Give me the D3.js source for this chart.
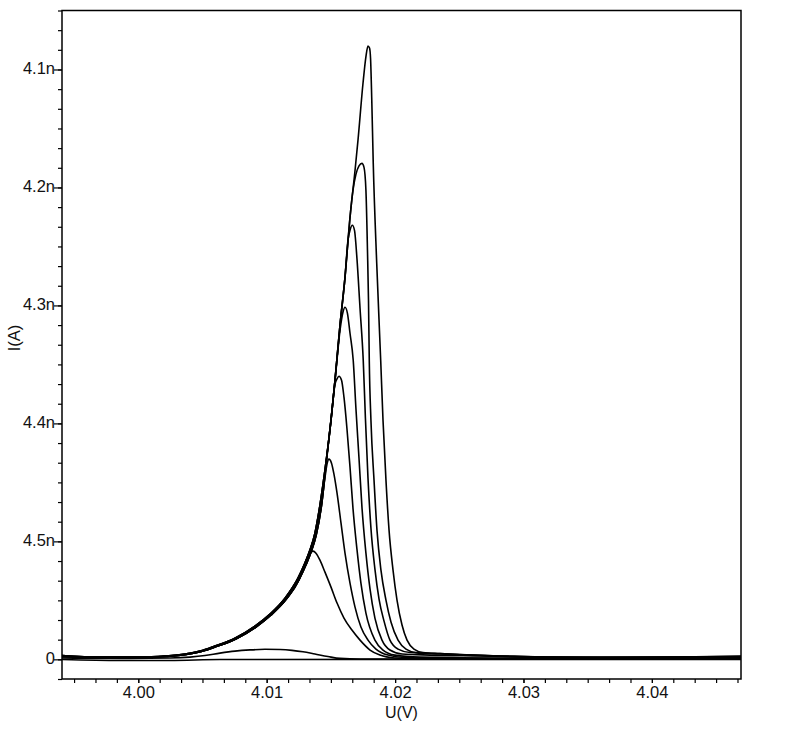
<!DOCTYPE html>
<html>
<head>
<meta charset="utf-8">
<script src="https://cdn.jsdelivr.net/npm/d3@7/dist/d3.min.js"></script>
<style>
  html, body { margin: 0; padding: 0; background: #fff; }
  svg { display: block; }
  text { font-family: "Liberation Sans", Arial, sans-serif; fill: #111; }
</style>
</head>
<body>
<svg id="chart" width="795" height="753"></svg>
<script>
// ---- axis data ----
const xTickValues = [4.00, 4.01, 4.02, 4.03, 4.04];
const xTickLabels = ["4.00", "4.01", "4.02", "4.03", "4.04"];
const yTickValues = [0, 1, 2, 3, 4, 5];
const yTickLabels = ["0", "4.5n", "4.4n", "4.3n", "4.2n", "4.1n"];
const xDomain = [3.99406, 4.04694];
const yDomain = [-1 / 6, 5.5];
const xTitle = "U(V)";
const yTitle = "I(A)";

// ---- series data: [U, I] (I in major-tick units) ----
const envelopeA = [
  [3.99406, 0.032], [3.99702, 0.019], [4.00013, 0.019], [4.00208, 0.028], [4.00364, 0.045],
  [4.00481, 0.070], [4.00597, 0.113], [4.00753, 0.180], [4.00909, 0.282], [4.01026, 0.384],
  [4.01143, 0.519], [4.01244, 0.689], [4.01298, 0.816], [4.01337, 0.926], [4.01376, 1.070],
  [4.01415, 1.307], [4.01462, 1.671], [4.01501, 2.027], [4.01532, 2.366], [4.01571, 2.832],
  [4.01610, 3.238], [4.01649, 3.746], [4.01688, 4.144], [4.01711, 4.399], [4.01750, 4.881]
];
const envelopeB = [
  [3.99406, 0.024], [3.99702, 0.015], [4.00013, 0.015], [4.00218, 0.024], [4.00374, 0.041],
  [4.00491, 0.066], [4.00607, 0.108], [4.00763, 0.175], [4.00919, 0.276], [4.01036, 0.378],
  [4.01153, 0.511], [4.01254, 0.680], [4.01308, 0.806], [4.01347, 0.914], [4.01386, 1.055],
  [4.01425, 1.288]
];
const sweep1 = [
  [4.01773, 5.110], [4.01789, 5.199], [4.01801, 5.182], [4.01809, 5.093], [4.01818, 4.763],
  [4.01830, 4.204], [4.01857, 3.357], [4.01888, 2.535], [4.01906, 2.027], [4.01929, 1.519],
  [4.01953, 1.095], [4.01984, 0.756], [4.02015, 0.502], [4.02054, 0.291], [4.02093, 0.163],
  [4.02147, 0.087], [4.02217, 0.058], [4.02350, 0.049], [4.02505, 0.041], [4.02817, 0.028],
  [4.03206, 0.019], [4.03596, 0.015], [4.04219, 0.019], [4.04694, 0.028]
];
const sweep2 = [
  [4.01672, 3.975], [4.01695, 4.111], [4.01719, 4.183], [4.01742, 4.204], [4.01758, 4.170],
  [4.01773, 3.975], [4.01785, 3.467], [4.01793, 3.043], [4.01799, 2.535], [4.01812, 2.027],
  [4.01836, 1.519], [4.01859, 1.095], [4.01890, 0.756], [4.01929, 0.502], [4.01968, 0.316],
  [4.02023, 0.163], [4.02085, 0.087], [4.02163, 0.058], [4.02350, 0.049], [4.02583, 0.036],
  [4.02973, 0.024], [4.03596, 0.015], [4.04694, 0.024]
];
const sweep3 = [
  [4.01633, 3.552], [4.01651, 3.645], [4.01667, 3.679], [4.01684, 3.636], [4.01703, 3.399],
  [4.01727, 2.976], [4.01752, 2.535], [4.01769, 2.044], [4.01789, 1.536], [4.01812, 1.112],
  [4.01843, 0.765], [4.01875, 0.511], [4.01914, 0.324], [4.01960, 0.163], [4.02023, 0.087],
  [4.02116, 0.058], [4.02350, 0.045], [4.02661, 0.032], [4.03284, 0.019], [4.04694, 0.019]
];
const sweep4 = [
  [4.01470, 1.730], [4.01509, 2.112], [4.01540, 2.450], [4.01571, 2.789], [4.01594, 2.942],
  [4.01610, 2.984], [4.01629, 2.933], [4.01649, 2.764], [4.01674, 2.535], [4.01695, 2.129],
  [4.01719, 1.705], [4.01742, 1.290], [4.01773, 0.900], [4.01805, 0.595], [4.01843, 0.350],
  [4.01898, 0.163], [4.01960, 0.079], [4.02054, 0.045], [4.02272, 0.036], [4.02661, 0.028],
  [4.03284, 0.015], [4.04694, 0.015]
];
const sweep5 = [
  [4.01470, 1.722], [4.01505, 2.069], [4.01532, 2.332], [4.01548, 2.378], [4.01563, 2.400],
  [4.01583, 2.366], [4.01602, 2.222], [4.01625, 1.959], [4.01649, 1.629], [4.01672, 1.282],
  [4.01703, 0.934], [4.01734, 0.646], [4.01773, 0.392], [4.01843, 0.163], [4.01906, 0.079],
  [4.01999, 0.036], [4.02194, 0.019], [4.02817, 0.011], [4.04694, 0.011]
];
const sweep6 = [
  [4.01455, 1.550], [4.01472, 1.665], [4.01485, 1.697], [4.01505, 1.663], [4.01524, 1.570],
  [4.01548, 1.409], [4.01579, 1.154], [4.01610, 0.900], [4.01649, 0.646], [4.01688, 0.443],
  [4.01734, 0.274], [4.01789, 0.163], [4.01851, 0.087], [4.01945, 0.036], [4.02077, 0.015],
  [4.02428, 0.007], [4.04694, 0.007]
];
const sweep7 = [
  [4.01298, 0.812], [4.01329, 0.884], [4.01361, 0.917], [4.01384, 0.900], [4.01415, 0.841],
  [4.01454, 0.739], [4.01501, 0.612], [4.01548, 0.477], [4.01602, 0.350], [4.01664, 0.248],
  [4.01727, 0.163], [4.01805, 0.079], [4.01882, 0.036], [4.01999, 0.011], [4.02194, 0.003],
  [4.04694, 0.003]
];
const sweep8 = [
  [3.99406, 0.011], [3.99857, 0.007], [4.00247, 0.011], [4.00403, 0.019], [4.00519, 0.032],
  [4.00636, 0.053], [4.00753, 0.070], [4.00870, 0.080], [4.00987, 0.085], [4.01104, 0.083],
  [4.01197, 0.076], [4.01283, 0.064], [4.01376, 0.045], [4.01477, 0.024], [4.01571, 0.008],
  [4.01727, 0.003], [4.04694, 0.003]
];
const sweep9 = [
  [3.99406, -0.002], [3.99857, -0.010], [4.00247, -0.010], [4.00636, -0.002], [4.04694, 0.000]
];

// which rising flank each peaked sweep follows before leaving it
const peakedSweeps = [
  { flank: envelopeA, tail: sweep1 },
  { flank: envelopeA, tail: sweep2 },
  { flank: envelopeA, tail: sweep3 },
  { flank: envelopeB, tail: sweep4 },
  { flank: envelopeB, tail: sweep5 },
  { flank: envelopeB, tail: sweep6 },
  { flank: envelopeB, tail: sweep7 }
];

const series = peakedSweeps.map(s => s.flank.filter(p => p[0] < s.tail[0][0]).concat(s.tail))
  .concat([sweep8, sweep9]);

// ---- layout ----
const svg = d3.select("#chart");
const plotL = 62, plotR = 741, plotT = 10.5, plotB = 679;
const fontSize = 16.5;

const x = d3.scaleLinear().domain(xDomain).range([plotL, plotR]);
const y = d3.scaleLinear().domain(yDomain).range([plotB, plotT]);

svg.append("rect").attr("width", 795).attr("height", 753).attr("fill", "#fff");

svg.append("defs").append("clipPath").attr("id", "clip")
  .append("rect").attr("x", plotL).attr("y", plotT).attr("width", plotR - plotL).attr("height", plotB - plotT);

// curves
const line = d3.line().x(d => x(d[0])).y(d => y(d[1])).curve(d3.curveMonotoneX);
svg.append("g").attr("clip-path", "url(#clip)")
  .selectAll("path").data(series).join("path")
  .attr("d", line)
  .attr("fill", "none")
  .attr("stroke", "#000")
  .attr("stroke-width", 1.6)
  .attr("stroke-linejoin", "round");

// minor tick positions
const xMinor = d3.range(0, 40).map(i => 3.99 + i * (0.01 / 6)).filter(v => v >= xDomain[0] - 1e-9 && v <= xDomain[1]);
const yMinor = d3.range(-1, 34).map(i => i / 6).filter(v => v >= yDomain[0] - 1e-9 && v <= yDomain[1] + 1e-9);

// x axis
const xAxis = d3.axisBottom(x).tickValues(xMinor).tickSize(4).tickFormat("");
const gx = svg.append("g").attr("transform", `translate(0,${plotB})`).call(xAxis);
gx.select(".domain").remove();
gx.selectAll(".tick line").attr("stroke", "#000").attr("stroke-width", 1.2);

const xLab = d3.axisBottom(x).tickValues(xTickValues).tickSize(4)
  .tickFormat((d, i) => xTickLabels[i]);
const gxl = svg.append("g").attr("transform", `translate(0,${plotB})`).call(xLab);
gxl.select(".domain").remove();
gxl.selectAll(".tick line").attr("stroke", "#000").attr("stroke-width", 1.2);
gxl.selectAll(".tick text").attr("font-size", fontSize).attr("font-family", "Liberation Sans, Arial, sans-serif")
  .attr("fill", "#111").attr("y", 0).attr("dy", "19px");

// y axis
const yAxis = d3.axisLeft(y).tickValues(yMinor).tickSize(4).tickFormat("");
const gy = svg.append("g").attr("transform", `translate(${plotL},0)`).call(yAxis);
gy.select(".domain").remove();
gy.selectAll(".tick line").attr("stroke", "#000").attr("stroke-width", 1.2);

const yLab = d3.axisLeft(y).tickValues(yTickValues).tickSize(8)
  .tickFormat((d, i) => yTickLabels[i]);
const gyl = svg.append("g").attr("transform", `translate(${plotL},0)`).call(yLab);
gyl.select(".domain").remove();
gyl.selectAll(".tick line").attr("stroke", "#000").attr("stroke-width", 1.2);
gyl.selectAll(".tick text").attr("font-size", fontSize).attr("font-family", "Liberation Sans, Arial, sans-serif")
  .attr("fill", "#111").attr("x", -7).attr("dy", "4.5px");

// frame
svg.append("rect").attr("x", plotL).attr("y", plotT).attr("width", plotR - plotL).attr("height", plotB - plotT)
  .attr("fill", "none").attr("stroke", "#000").attr("stroke-width", 1.5);

// titles
svg.append("text").attr("x", (plotL + plotR) / 2).attr("y", 718)
  .attr("text-anchor", "middle").attr("font-size", 16).text(xTitle);
svg.append("text").attr("transform", "translate(20,338) rotate(-90)")
  .attr("text-anchor", "middle").attr("font-size", fontSize).text(yTitle);
</script>
</body>
</html>
